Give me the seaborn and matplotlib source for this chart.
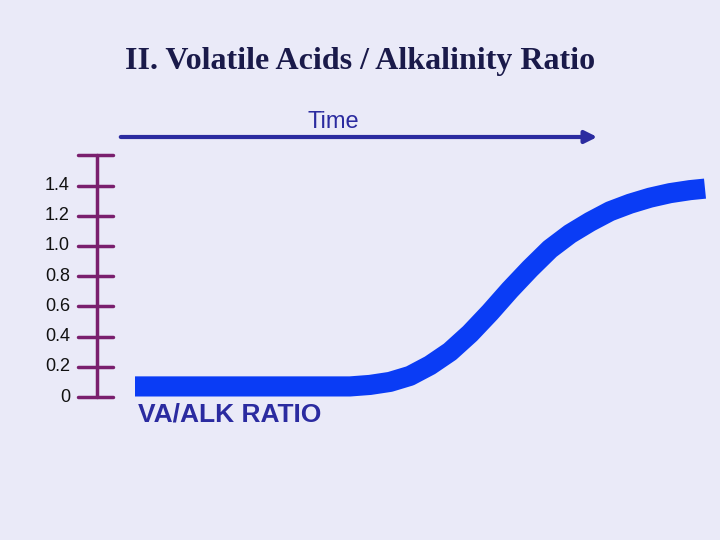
import matplotlib
matplotlib.use("Agg")
import matplotlib.pyplot as plt
import seaborn as sns
import pandas as pd

sns.set_theme(style="white")
plt.rcParams['font.family'] = ['Liberation Sans', 'DejaVu Sans']

time = [135, 200, 250, 300, 350, 370, 390, 410, 430, 450, 470, 490, 510, 530, 550, 570,
        590, 610, 630, 650, 670, 690, 705]
ratio = [0.07, 0.07, 0.07, 0.07, 0.07, 0.08, 0.10, 0.14, 0.21, 0.30, 0.42, 0.56, 0.71,
         0.85, 0.98, 1.08, 1.16, 1.23, 1.28, 1.32, 1.35, 1.37, 1.38]
tick_vals = [0, 0.2, 0.4, 0.6, 0.8, 1.0, 1.2, 1.4]
tick_labels = ["0", "0.2", "0.4", "0.6", "0.8", "1.0", "1.2", "1.4"]

bg = "#EAEAF8"
fig = plt.figure(figsize=(7.2, 5.4), dpi=100, facecolor=bg)
ax = fig.add_axes([0, 0, 1, 1])
ax.set_facecolor(bg)
S = 151.0
ax.set_xlim(0, 720)
ax.set_ylim((397 - 540) / S, 397 / S)
ax.axis("off")

def yv(p):
    return (397 - p) / S

df = pd.DataFrame({"time": time, "ratio": ratio})
sns.lineplot(data=df, x="time", y="ratio", ax=ax, color="#0A3CF5", linewidth=14.5,
             solid_capstyle="butt")

purple = "#7A1F6E"
ax.plot([97, 97], [0, yv(155)], color=purple, lw=2.5)
ax.plot([78, 113], [yv(155), yv(155)], color=purple, lw=2.5)
for v, lab in zip(tick_vals, tick_labels):
    ax.plot([78, 113], [v, v], color=purple, lw=2.5)
    ax.text(70, v, lab, ha="right", va="center", fontsize=13, color="#111111")

ax.annotate("", xy=(600, yv(137)), xytext=(118, yv(137)),
            arrowprops=dict(arrowstyle="-|>", color="#2B2BA0", lw=3, mutation_scale=18))
ax.text(333, yv(122), "Time", ha="center", va="center", fontsize=17, color="#2B2BA0")
ax.text(138, yv(415), "VA/ALK RATIO", ha="left", va="center", fontsize=19,
        color="#2B2BA0", fontweight="bold")
ax.text(360, yv(62), "II. Volatile Acids / Alkalinity Ratio", ha="center", va="center",
        fontsize=23, color="#1A1A4A", fontweight="bold", family="Liberation Serif")

fig.savefig("out.png", dpi=100, facecolor=bg)
